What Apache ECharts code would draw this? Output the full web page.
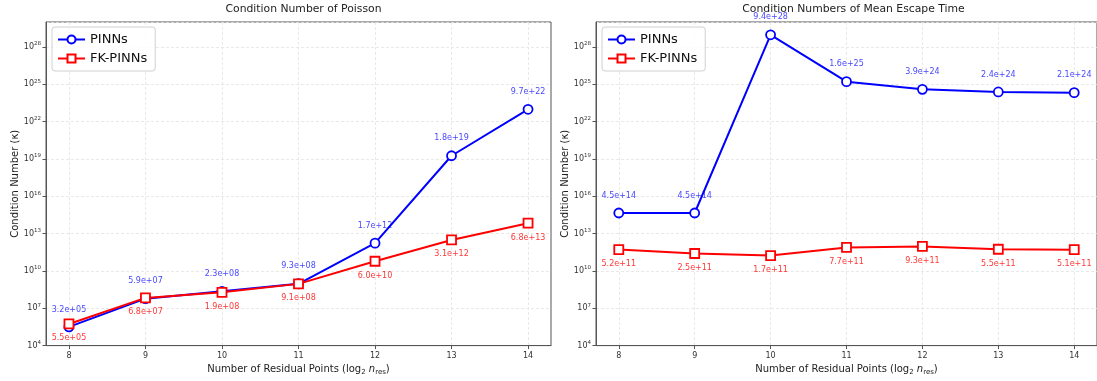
<!DOCTYPE html>
<html>
<head>
<meta charset="utf-8">
<script src="https://cdn.jsdelivr.net/npm/echarts@6/dist/echarts.min.js"></script>
<style>
  html, body { margin: 0; padding: 0; background: #fff; }
  #chart { width: 1097px; height: 381px; }
</style>
</head>
<body>
<div id="chart"></div>
<script>
// data
const residualLog2 = [8, 9, 10, 11, 12, 13, 14];
const poissonPinns = [3.2e5, 5.9e7, 2.3e8, 9.3e8, 1.7e12, 1.8e19, 9.7e22];
const poissonFkPinns = [5.5e5, 6.8e7, 1.9e8, 9.1e8, 6.0e10, 3.1e12, 6.8e13];
const escapePinns = [4.5e14, 4.5e14, 9.4e28, 1.6e25, 3.9e24, 2.4e24, 2.1e24];
const escapeFkPinns = [5.2e11, 2.5e11, 1.7e11, 7.7e11, 9.3e11, 5.5e11, 5.1e11];
const titles = ['Condition Number of Poisson', 'Condition Numbers of Mean Escape Time'];
const seriesNames = ['PINNs', 'FK-PINNs'];

const FONT = 'DejaVu Sans';
const BLUE = '#0000ff';
const RED = '#ff0000';

function sci(v) {
    const parts = v.toExponential(1).split('e');
    const n = parseInt(parts[1], 10);
    return parts[0] + 'e' + (n < 0 ? '-' : '+') + String(Math.abs(n)).padStart(2, '0');
}

const grids = [
    {left: 46, top: 22, width: 505, height: 325},
    {left: 596, top: 22, width: 505, height: 325}
];

function xAxisFor(idx) {
    return {
        gridIndex: idx,
        type: 'value',
        min: 7.7,
        max: 14.3,
        name: '{a|Number of Residual Points (log}{s|2}{a| }{i|n}{s|res}{a|)}',
        nameLocation: 'middle',
        nameGap: 16,
        nameTextStyle: {
            rich: {
                a: {fontFamily: FONT, fontSize: 10, color: '#222'},
                i: {fontFamily: FONT, fontSize: 10, fontStyle: 'italic', color: '#222'},
                s: {fontFamily: FONT, fontSize: 7, color: '#222', padding: [6, 0, 0, 0]}
            }
        },
        axisLine: {show: true, onZero: false, lineStyle: {color: '#555', width: 1}},
        axisTick: {show: true, length: 3.5, customValues: residualLog2, lineStyle: {color: '#555'}},
        axisLabel: {customValues: residualLog2, fontFamily: FONT, fontSize: 8, color: '#333', margin: 6},
        splitLine: {show: true, lineStyle: {color: '#e3e3e3', type: [3, 2], width: 0.8}}
    };
}

function yAxisFor(idx) {
    return {
        gridIndex: idx,
        type: 'log',
        logBase: 10,
        min: 1e4,
        max: 1e30,
        interval: 3,
        name: 'Condition Number (\u03ba)',
        nameLocation: 'middle',
        nameGap: 26,
        nameTextStyle: {fontFamily: FONT, fontSize: 10, color: '#222'},
        axisLine: {show: true, lineStyle: {color: '#555', width: 1}},
        axisTick: {show: true, length: 3.5, lineStyle: {color: '#555'}},
        axisLabel: {
            showMaxLabel: false,
            margin: 5,
            formatter: function (v) {
                return '{b|10}{e|' + Math.round(Math.log10(v)) + '}';
            },
            rich: {
                b: {fontFamily: FONT, fontSize: 8, color: '#333'},
                e: {fontFamily: FONT, fontSize: 5.5, color: '#333', padding: [0, 0, 6, 0]}
            }
        },
        splitLine: {show: true, lineStyle: {color: '#e3e3e3', type: [3, 2], width: 0.8}}
    };
}

function lineSeries(name, values, idx, color, symbol, above) {
    return {
        name: name,
        type: 'line',
        xAxisIndex: idx,
        yAxisIndex: idx,
        data: residualLog2.map((x, i) => [x, values[i]]),
        symbol: symbol,
        symbolSize: 9,
        showAllSymbol: true,
        lineStyle: {color: color, width: 2},
        itemStyle: {color: '#fff', borderColor: color, borderWidth: 1.8},
        label: {
            show: true,
            position: above ? 'top' : 'bottom',
            distance: above ? 8 : 5,
            formatter: p => sci(p.value[1]),
            fontFamily: FONT,
            fontSize: 8,
            color: above ? 'rgba(0,0,255,0.75)' : 'rgba(255,0,0,0.8)'
        },
        emphasis: {disabled: true},
        animation: false
    };
}

function legendFor(idx) {
    return {
        orient: 'vertical',
        left: grids[idx].left + 6,
        top: 27,
        data: seriesNames,
        itemWidth: 27,
        itemHeight: 10,
        itemGap: 6,
        padding: [6, 8, 6, 5],
        borderColor: '#d0d0d0',
        borderWidth: 1,
        borderRadius: 3,
        backgroundColor: 'rgba(255,255,255,0.85)',
        textStyle: {fontFamily: FONT, fontSize: 13, color: '#111'},
        selectedMode: false
    };
}

const chart = echarts.init(document.getElementById('chart'), null, {renderer: 'canvas'});

const option = {
    backgroundColor: '#fff',
    animation: false,
    title: titles.map((t, i) => ({
        text: t,
        left: grids[i].left + grids[i].width / 2,
        textAlign: 'center',
        top: -1,
        textStyle: {fontFamily: FONT, fontSize: 10.8, fontWeight: 'normal', color: '#222'}
    })),
    legend: [legendFor(0), legendFor(1)],
    grid: grids.map(g => Object.assign({show: true, borderColor: '#555', borderWidth: 1, backgroundColor: 'transparent'}, g)),
    xAxis: [xAxisFor(0), xAxisFor(1)],
    yAxis: [yAxisFor(0), yAxisFor(1)],
    series: [
        lineSeries('PINNs', poissonPinns, 0, BLUE, 'circle', true),
        lineSeries('FK-PINNs', poissonFkPinns, 0, RED, 'rect', false),
        lineSeries('PINNs', escapePinns, 1, BLUE, 'circle', true),
        lineSeries('FK-PINNs', escapeFkPinns, 1, RED, 'rect', false)
    ]
};

chart.setOption(option);
</script>
</body>
</html>
